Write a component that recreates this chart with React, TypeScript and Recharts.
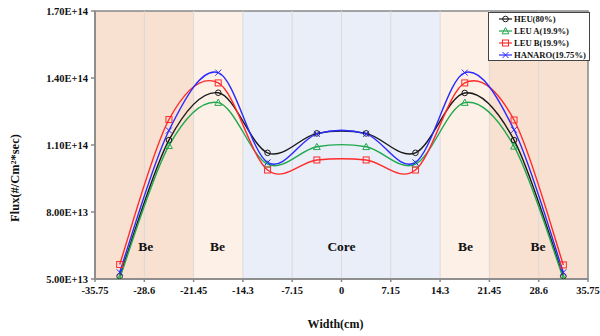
import React from 'react';
import { LineChart, Line, XAxis, YAxis, ReferenceArea, ReferenceLine, ReferenceDot, Label } from 'recharts';

const widths = [-32.175, -25.025, -17.875, -10.725, -3.575, 3.575, 10.725, 17.875, 25.025, 32.175];
const heu = [5.12e13, 1.122e14, 1.334e14, 1.065e14, 1.152e14, 1.152e14, 1.065e14, 1.333e14, 1.122e14, 5.12e13];
const leuA = [5.03e13, 1.097e14, 1.29e14, 1.014e14, 1.092e14, 1.092e14, 1.014e14, 1.29e14, 1.094e14, 5.03e13];
const leuB = [5.65e13, 1.214e14, 1.378e14, 0.988e14, 1.033e14, 1.033e14, 0.988e14, 1.378e14, 1.212e14, 5.63e13];
const hanaro = [5.3e13, 1.165e14, 1.424e14, 1.022e14, 1.15e14, 1.15e14, 1.022e14, 1.424e14, 1.168e14, 5.3e13];

const xTicks = [-35.75, -28.6, -21.45, -14.3, -7.15, 0, 7.15, 14.3, 21.45, 28.6, 35.75];
const yTicks = [5e13, 8e13, 1.1e14, 1.4e14, 1.7e14];

const bands = [
  { x1: -35.75, x2: -21.45, fill: '#f9e1d1' },
  { x1: -21.45, x2: -14.3, fill: '#fdf0e6' },
  { x1: -14.3, x2: 14.3, fill: '#eaeef8' },
  { x1: 14.3, x2: 21.45, fill: '#fdf0e6' },
  { x1: 21.45, x2: 35.75, fill: '#f9e1d1' },
];
const regionLabels = [
  { x: -28.4, text: 'Be' },
  { x: -18.0, text: 'Be' },
  { x: 0, text: 'Core' },
  { x: 18.0, text: 'Be' },
  { x: 28.5, text: 'Be' },
];
const regionLabelY = 6.45e13;

const series = [
  { key: 'heu', name: 'HEU(80%)', color: '#1a1a1a', marker: 'circle' },
  { key: 'leuA', name: 'LEU A(19.9%)', color: '#21a84f', marker: 'triangle' },
  { key: 'leuB', name: 'LEU B(19.9%)', color: '#ff2a2a', marker: 'square' },
  { key: 'hanaro', name: 'HANARO(19.75%)', color: '#2a2aff', marker: 'cross' },
];

const data = widths.map((w, i) => ({ w, heu: heu[i], leuA: leuA[i], leuB: leuB[i], hanaro: hanaro[i] }));

const FONT = '"Liberation Serif", "Times New Roman", serif';

// Excel-like smoothed line (Catmull-Rom / cardinal tension 0)
const excelCurve = (context: any) => {
  let pts: number[][] = [];
  return {
    areaStart() {},
    areaEnd() {},
    lineStart() { pts = []; },
    point(x: number, y: number) { pts.push([+x, +y]); },
    lineEnd() {
      if (!pts.length) return;
      context.moveTo(pts[0][0], pts[0][1]);
      for (let i = 0; i < pts.length - 1; i++) {
        const p0 = pts[i - 1] || pts[i];
        const p1 = pts[i];
        const p2 = pts[i + 1];
        const p3 = pts[i + 2] || p2;
        context.bezierCurveTo(
          p1[0] + (p2[0] - p0[0]) / 6, p1[1] + (p2[1] - p0[1]) / 6,
          p2[0] - (p3[0] - p1[0]) / 6, p2[1] - (p3[1] - p1[1]) / 6,
          p2[0], p2[1]
        );
      }
    },
  };
};

function Marker({ type, cx, cy, color }: { type: string; cx: number; cy: number; color: string }) {
  if (cx == null || cy == null) return null;
  const s = 3;
  if (type === 'circle') return <circle cx={cx} cy={cy} r={2.8} fill="none" stroke={color} strokeWidth={1} />;
  if (type === 'square') return <rect x={cx - s} y={cy - s} width={2 * s} height={2 * s} fill="none" stroke={color} strokeWidth={1} />;
  if (type === 'triangle')
    return <polygon points={`${cx},${cy - 3.4} ${cx - 3.4},${cy + 2.8} ${cx + 3.4},${cy + 2.8}`} fill="none" stroke={color} strokeWidth={1} />;
  return (
    <g stroke={color} strokeWidth={1}>
      <line x1={cx - s} y1={cy - s} x2={cx + s} y2={cy + s} />
      <line x1={cx - s} y1={cy + s} x2={cx + s} y2={cy - s} />
    </g>
  );
}

const tickStyle = { fill: '#111', fontSize: 10.5, fontWeight: 700, fontFamily: FONT };

export default function App() {
  return (
    <div style={{ position: 'relative', width: 600, height: 336, background: '#fff' }}>
      <style>{`body{margin:0}`}</style>
      <LineChart width={600} height={336} data={data} margin={{ top: 11, right: 12, left: 0, bottom: 0 }}>
        <XAxis
          dataKey="w"
          type="number"
          domain={[-35.75, 35.75]}
          ticks={xTicks}
          tickFormatter={(v: number) => String(v)}
          height={57}
          tickSize={3}
          tickMargin={5}
          stroke="#888"
          strokeWidth={1.5}
          tick={tickStyle}
          allowDataOverflow
        >
          <Label value="Width(cm)" position="insideBottom" offset={8} dx={-6}
            style={{ fill: '#111', fontSize: 12, fontWeight: 700, fontFamily: FONT }} />
        </XAxis>
        <YAxis
          type="number"
          domain={[5e13, 1.7e14]}
          ticks={yTicks}
          tickFormatter={(v: number) => v.toExponential(2).toUpperCase()}
          width={95}
          tickSize={4}
          tickMargin={3}
          stroke="#888"
          strokeWidth={1.5}
          tick={tickStyle}
          allowDataOverflow
        >
          <Label
            content={() => {
              const x = 15;
              const y = 178;
              return (
                <text x={x} y={y} transform={`rotate(-90 ${x} ${y})`} textAnchor="middle" dominantBaseline="central"
                  style={{ fill: '#111', fontSize: 12.5, fontWeight: 700, fontFamily: FONT }}>
                  Flux(#/Cm²*sec)
                </text>
              );
            }}
          />
        </YAxis>
        {bands.map((b, i) => (
          <ReferenceArea key={'b' + i} x1={b.x1} x2={b.x2} fill={b.fill} fillOpacity={1} stroke="none" ifOverflow="visible" />
        ))}
        {xTicks.slice(1, -1).map((t) => (
          <ReferenceLine key={'g' + t} x={t} stroke="#d9d9d9" strokeWidth={1} />
        ))}
        <ReferenceArea x1={-35.75} x2={35.75} y1={5e13} y2={1.7e14} fill="none" stroke="#888" strokeWidth={1.5} fillOpacity={0} />
        {regionLabels.map((r, i) => (
          <ReferenceDot
            key={'r' + i}
            x={r.x}
            y={regionLabelY}
            r={0}
            fill="none"
            stroke="none"
            label={(p: any) => {
              const vb = p.viewBox || {};
              return (
                <text x={vb.x} y={vb.y} textAnchor="middle" dominantBaseline="central"
                  style={{ fill: '#111', fontSize: 13.5, fontWeight: 700, fontFamily: FONT }}>
                  {r.text}
                </text>
              );
            }}
          />
        ))}
        {series.map((s) => (
          <Line
            key={s.key}
            dataKey={s.key}
            name={s.name}
            type={excelCurve as any}
            stroke={s.color}
            strokeWidth={1.4}
            isAnimationActive={false}
            dot={(p: any) => <Marker key={s.key + p.index} type={s.marker} cx={p.cx} cy={p.cy} color={s.color} />}
            activeDot={false}
          />
        ))}
      </LineChart>
      <div
        style={{
          position: 'absolute', left: 488, top: 12, width: 102, height: 49,
          border: '1px solid #444', background: '#fff', boxSizing: 'border-box',
          fontFamily: FONT, fontWeight: 700, fontSize: 8.6, color: '#111', paddingTop: 0,
        }}
      >
        {series.map((s) => (
          <div key={s.key} style={{ display: 'flex', alignItems: 'center', height: 12 }}>
            <svg width={24} height={10} style={{ flex: 'none' }}>
              <line x1={10} y1={5} x2={23} y2={5} stroke={s.color} strokeWidth={1.2} />
              <Marker type={s.marker} cx={16.5} cy={5} color={s.color} />
            </svg>
            <span style={{ whiteSpace: 'nowrap', marginLeft: 1 }}>{s.name}</span>
          </div>
        ))}
      </div>
    </div>
  );
}
